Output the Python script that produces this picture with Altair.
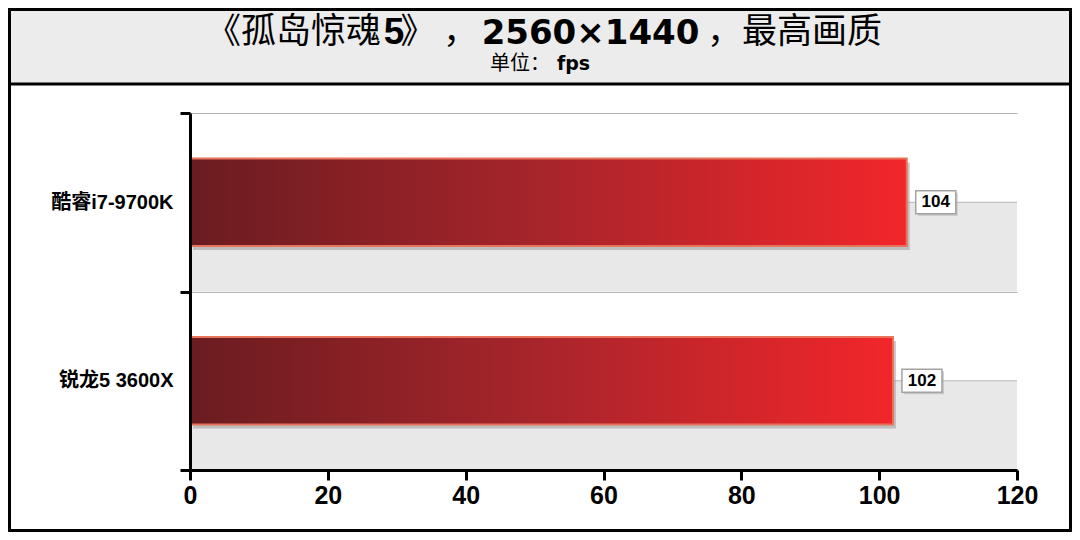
import altair as alt
import pandas as pd

# ---- data ----
cpus = ["酷睿i7-9700K", "锐龙5 3600X"]
fps = [104, 102]
x_ticks = [0, 20, 40, 60, 80, 100, 120]
title_a = "《孤岛惊魂"
title_b = "5"
title_c = "》"
title_d = "，"
title_mid = "2560×1440"
title_right = "，最高画质"
unit_label = "单位："
unit_value = "fps"

df = pd.DataFrame({"cpu": cpus, "fps": fps})

# ---- layout ----
W, H = 827, 357
PAD = {"left": 182, "top": 105, "right": 55, "bottom": 62}
one = alt.Data(values=[{"k": 1}])

CJK = "Noto Sans CJK SC"
SANS = "Liberation Sans, Noto Sans CJK SC, sans-serif"
VERD = "DejaVu Sans, Noto Sans CJK SC, sans-serif"

ysc = alt.Scale(domain=cpus, paddingInner=0, paddingOuter=0)
xsc = alt.Scale(domain=[0, 120], nice=False)


def box(x1, x2, y1, y2, **kw):
    return alt.Chart(one).mark_rect(**kw).encode(
        x=alt.value(x1), x2=alt.value(x2), y=alt.value(y1), y2=alt.value(y2)
    )


def label(txt, x, y, **kw):
    return alt.Chart(one).mark_text(text=txt, color="black", **kw).encode(
        x=alt.value(x), y=alt.value(y)
    )


band_bg = box(-182, 882, -105, -29, fill="#ececec")
band_line = alt.Chart(one).mark_rule(color="black", strokeWidth=3).encode(
    x=alt.value(-182), x2=alt.value(882), y=alt.value(-29)
)

TY = -70
t_a = label(title_a, 191, TY, font=CJK, fontSize=35, align="right", baseline="alphabetic")
t_b = label(title_b, 204, TY + 1, font=SANS, fontSize=37, fontWeight="bold", align="center", baseline="alphabetic")
t_c = label(title_c, 228, TY, font=CJK, fontSize=35, align="center", baseline="alphabetic")
t_d = label(title_d, 253, TY, font=CJK, fontSize=35, align="left", baseline="alphabetic")
t_m = label(title_mid, 400.5, TY + 1, font=VERD, fontSize=34, fontWeight="bold", align="center", baseline="alphabetic")
t_r = label(title_right, 517, TY, font=CJK, fontSize=35, align="left", baseline="alphabetic")
s1 = label(unit_label, 360, -43, font=CJK, fontSize=20, align="right", baseline="alphabetic")
s2 = label(unit_value, 367, -43, font=VERD, fontSize=19, fontWeight="bold", align="left", baseline="alphabetic")

stripe1 = box(0, W, 89.25, 178.5, fill="#e8e8e8")
stripe2 = box(0, W, 267.75, H, fill="#e8e8e8")

base = alt.Chart(df)

mid_grid = base.mark_rule(color="#b4b4b4", strokeWidth=1).encode(
    y=alt.Y("cpu:N", scale=ysc, sort=cpus, title=None),
    x=alt.value(0),
    x2=alt.value(W),
)

grad = alt.Gradient(
    gradient="linear",
    stops=[
        alt.GradientStop(color="#6a1c20", offset=0),
        alt.GradientStop(color="#a8252b", offset=0.5),
        alt.GradientStop(color="#f2262a", offset=1),
    ],
    x1=0, x2=1, y1=0, y2=0,
)

x_enc = alt.X(
    "fps:Q",
    scale=xsc,
    title=None,
    axis=alt.Axis(
        values=x_ticks, domainColor="black", domainWidth=3, tickColor="black",
        tickWidth=3, tickSize=10, labelFont=SANS, labelFontSize=25,
        labelFontWeight="bold", labelColor="black", labelPadding=3, grid=False,
        zindex=2, labelFlush=False,
    ),
)
y_enc = alt.Y(
    "cpu:N",
    scale=ysc,
    sort=cpus,
    title=None,
    axis=alt.Axis(
        domainColor="black", domainWidth=3, tickColor="black", tickWidth=3,
        tickSize=10, tickBand="extent", labelFont=SANS, labelFontSize=20,
        labelFontWeight="bold", labelColor="black", labelPadding=7,
        grid=True, gridColor="#b4b4b4", gridWidth=1, zindex=1, labelLimit=300,
    ),
)

bar_shadow = base.mark_bar(
    height={"band": 0.49}, color="#9a9a9a", opacity=0.55,
    xOffset=3, x2Offset=3, yOffset=4, y2Offset=4,
).encode(x=x_enc, y=y_enc)

bars = base.mark_bar(
    height={"band": 0.49}, fill=grad, stroke="#e7735a", strokeWidth=2
).encode(x=x_enc, y=y_enc)

BOX = "M-1,-0.575H1V0.575H-1Z"
box_shadow = base.mark_point(
    shape=BOX, size=1600, filled=True, fill="#b0b0b0", opacity=0.6,
    strokeWidth=0, xOffset=31, yOffset=2,
).encode(x=x_enc, y=y_enc)
box_fg = base.mark_point(
    shape=BOX, size=1600, filled=True, fill="white", stroke="#a3a3a3",
    strokeWidth=1.5, opacity=1, xOffset=29,
).encode(x=x_enc, y=y_enc)
vals = base.mark_text(
    dx=29, font="Liberation Sans", fontSize=17, fontWeight="bold",
    color="black", align="center", baseline="middle",
).encode(x=x_enc, y=y_enc, text="fps:Q")

frame = box(-180.5, 880.5, -103.5, 417.5, fill="white", fillOpacity=0,
            stroke="black", strokeWidth=3)

chart = alt.layer(
    band_bg, band_line, t_a, t_b, t_c, t_d, t_m, t_r, s1, s2,
    stripe1, stripe2, mid_grid,
    bar_shadow, bars, box_shadow, box_fg, vals,
    frame,
).properties(
    width=W, height=H, padding=PAD,
    autosize=alt.AutoSizeParams(type="none"),
    background="white",
).configure_view(strokeWidth=0)

chart.save("out.html", embed_options={"renderer": "svg", "actions": False})
